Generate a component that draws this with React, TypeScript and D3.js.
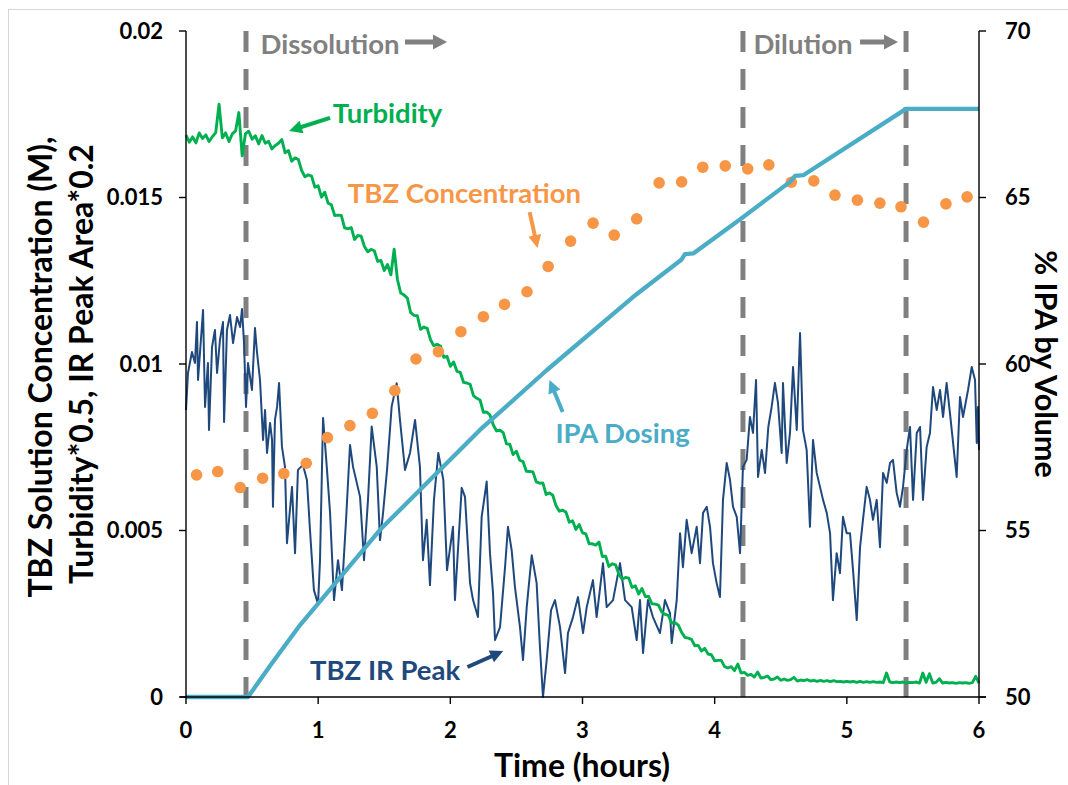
import React from "react";
import * as d3 from "d3";

// ---------- DATA ----------
const timeTicks = [0, 1, 2, 3, 4, 5, 6];
const leftTicks = [0, 0.005, 0.01, 0.015, 0.02];
const leftTickLabels = ["0", "0.005", "0.01", "0.015", "0.02"];
const rightTicks = [50, 55, 60, 65, 70];

// phase boundaries (hours)
const phaseTimes = [0.454, 4.214, 5.448];

// TBZ concentration (M) sampled offline
const tbzConcTimes = [0.08, 0.24, 0.41, 0.58, 0.74, 0.91, 1.07, 1.24, 1.41, 1.58, 1.74, 1.91, 2.08, 2.25, 2.41, 2.58, 2.74, 2.91, 3.08, 3.24, 3.41, 3.58, 3.75, 3.91, 4.08, 4.25, 4.41, 4.58, 4.75, 4.91, 5.08, 5.25, 5.41, 5.58, 5.75, 5.91];
const tbzConcValues = [0.00667, 0.00677, 0.00629, 0.00657, 0.00671, 0.00702, 0.00779, 0.00815, 0.00852, 0.0092, 0.01015, 0.01037, 0.01097, 0.01142, 0.01179, 0.01217, 0.01293, 0.01369, 0.01423, 0.01387, 0.01436, 0.01544, 0.01547, 0.01591, 0.01595, 0.01586, 0.01598, 0.01546, 0.0155, 0.01507, 0.01492, 0.01483, 0.01472, 0.01426, 0.01481, 0.01502];

// Turbidity*0.5 (mM), sampled every 0.025 h from 0 h
const turbidityStartH = 0;
const turbidityStepH = 0.025;
const turbidity_mM = [
  16.87, 16.66, 16.82, 16.64, 16.94, 16.77, 16.88, 16.68, 16.83, 16.95,
  17.8, 16.79, 16.94, 16.68, 16.91, 17.0, 17.55, 16.25, 16.92, 16.99,
  16.75, 16.85, 16.61, 16.86, 16.63, 16.69, 16.46, 16.56, 16.63, 16.74,
  16.34, 16.41, 16.09, 16.19, 16.14, 15.81, 15.62, 15.68, 15.64, 15.31,
  15.35, 15.01, 15.16, 14.83, 14.78, 14.46, 14.47, 14.46, 14.09, 14.06,
  14.1, 13.74, 13.86, 13.84, 13.53, 13.37, 13.44, 13.4, 13.08, 13.11,
  12.81, 12.99, 12.68, 13.45, 12.53, 12.13, 12.07, 11.98, 11.54, 11.46,
  11.45, 11.04, 11.11, 11.07, 10.73, 10.55, 10.59, 10.54, 10.2, 10.23,
  9.93, 10.06, 9.78, 9.75, 9.45, 9.43, 9.39, 9.05, 8.97, 8.92,
  8.55, 8.56, 8.47, 8.17, 7.99, 8.01, 7.94, 7.6, 7.59, 7.28,
  7.38, 7.11, 7.07, 6.78, 6.77, 6.76, 6.46, 6.42, 6.43, 6.08,
  6.13, 6.06, 5.74, 5.58, 5.61, 5.55, 5.25, 5.29, 5.03, 5.18,
  4.93, 4.9, 4.6, 4.6, 4.56, 4.65, 4.22, 4.23, 3.92, 4.0,
  3.97, 3.69, 3.54, 3.59, 3.57, 3.29, 3.34, 3.09, 3.26, 3.02,
  3.02, 2.8, 2.79, 2.76, 2.55, 2.48, 2.45, 2.22, 2.23, 2.16,
  1.94, 1.79, 1.77, 1.73, 1.54, 1.55, 1.38, 1.46, 1.29, 1.27,
  1.09, 1.1, 1.1, 0.91, 0.87, 0.91, 0.79, 0.99, 0.72, 0.74,
  0.65, 0.68, 0.6, 0.75, 0.57, 0.59, 0.63, 0.52, 0.54, 0.6,
  0.5, 0.54, 0.5, 0.52, 0.59, 0.48, 0.51, 0.49, 0.52, 0.48,
  0.5, 0.47, 0.5, 0.47, 0.49, 0.46, 0.49, 0.46, 0.47, 0.45,
  0.47, 0.45, 0.47, 0.44, 0.47, 0.44, 0.46, 0.44, 0.46, 0.44,
  0.45, 0.43, 0.72, 0.45, 0.43, 0.45, 0.43, 0.45, 0.42, 0.44,
  0.43, 0.45, 0.42, 0.72, 0.44, 0.7, 0.42, 0.44, 0.55, 0.42,
  0.44, 0.42, 0.43, 0.41, 0.43, 0.42, 0.43, 0.41, 0.43, 0.62,
  0.42,
];

// TBZ IR peak area*0.2 (mM) as [hours, value]
const irPeak: [number, number][] = [
  [0.0, 8.62], [0.015, 9.73], [0.045, 10.36], [0.068, 10.03], [0.083, 11.26], [0.091, 9.52], [0.129, 11.62], [0.144, 8.71],
  [0.166, 10.03], [0.174, 8.02], [0.197, 10.51], [0.219, 11.02], [0.235, 9.73], [0.257, 10.72], [0.28, 11.26], [0.288, 8.26],
  [0.31, 11.02], [0.333, 11.47], [0.356, 10.63], [0.386, 11.41], [0.409, 11.11], [0.424, 11.65], [0.439, 10.63], [0.454, 8.71],
  [0.469, 10.03], [0.499, 9.22], [0.522, 11.08], [0.537, 10.36], [0.56, 9.52], [0.583, 7.72], [0.598, 8.62], [0.613, 7.33],
  [0.636, 8.23], [0.651, 7.72], [0.658, 5.71], [0.673, 8.32], [0.689, 8.71], [0.704, 9.43], [0.726, 7.51], [0.749, 6.91],
  [0.764, 4.62], [0.802, 6.31], [0.825, 4.32], [0.847, 6.82], [0.885, 6.97], [0.915, 6.52], [0.938, 5.02], [0.968, 3.21],
  [0.999, 2.79], [1.014, 4.11], [1.037, 8.38], [1.065, 6.92], [1.09, 5.53], [1.12, 2.91], [1.15, 4.11], [1.18, 3.21],
  [1.211, 5.32], [1.241, 7.57], [1.264, 6.91], [1.317, 6.01], [1.347, 4.11], [1.377, 5.92], [1.405, 8.12], [1.443, 6.92],
  [1.468, 4.71], [1.491, 5.53], [1.521, 6.82], [1.556, 8.72], [1.594, 9.42], [1.619, 8.32], [1.657, 6.82], [1.695, 7.33],
  [1.733, 8.32], [1.77, 6.91], [1.793, 4.11], [1.821, 5.32], [1.846, 3.36], [1.876, 5.92], [1.909, 7.33], [1.947, 6.52],
  [1.975, 3.81], [2.02, 5.11], [2.035, 2.91], [2.086, 6.28], [2.111, 6.01], [2.149, 3.42], [2.172, 2.91], [2.209, 2.4],
  [2.237, 5.41], [2.275, 6.47], [2.3, 4.32], [2.323, 3.12], [2.338, 1.71], [2.376, 2.1], [2.414, 3.9], [2.436, 5.11],
  [2.464, 4.41], [2.489, 3.3], [2.527, 2.1], [2.55, 1.11], [2.578, 2.7], [2.616, 4.26], [2.653, 3.42], [2.678, 1.5],
  [2.701, 0.0], [2.729, 1.11], [2.762, 2.61], [2.792, 2.91], [2.83, 2.1], [2.868, 0.72], [2.89, 1.92], [2.928, 2.4],
  [2.966, 3.0], [3.004, 1.92], [3.032, 2.7], [3.079, 3.51], [3.107, 2.4], [3.155, 4.02], [3.183, 2.7], [3.231, 2.91],
  [3.284, 4.02], [3.322, 2.91], [3.372, 2.7], [3.41, 1.71], [3.435, 2.91], [3.458, 1.32], [3.495, 2.91], [3.533, 2.4],
  [3.586, 1.92], [3.624, 2.91], [3.662, 2.52], [3.675, 1.62], [3.713, 2.91], [3.738, 4.92], [3.76, 3.9], [3.788, 5.32],
  [3.826, 4.32], [3.864, 5.11], [3.889, 4.02], [3.912, 5.53], [3.94, 5.71], [3.965, 5.11], [3.987, 4.02], [4.015, 3.42],
  [4.04, 3.0], [4.063, 5.92], [4.091, 7.03], [4.116, 6.52], [4.139, 5.71], [4.167, 5.41], [4.192, 4.32], [4.214, 6.91],
  [4.242, 7.12], [4.267, 8.41], [4.29, 7.93], [4.313, 9.52], [4.328, 6.61], [4.356, 7.42], [4.381, 6.73], [4.406, 8.11],
  [4.431, 8.71], [4.456, 9.43], [4.479, 8.83], [4.507, 7.33], [4.517, 9.43], [4.545, 7.03], [4.57, 7.93], [4.593, 9.91],
  [4.621, 8.02], [4.646, 10.93], [4.668, 8.02], [4.696, 7.42], [4.721, 5.11], [4.744, 7.72], [4.772, 6.73], [4.797, 6.31],
  [4.82, 5.92], [4.848, 5.53], [4.873, 4.92], [4.895, 2.91], [4.923, 4.32], [4.948, 3.72], [4.971, 5.41], [4.999, 4.92],
  [5.024, 4.92], [5.047, 3.81], [5.075, 2.31], [5.1, 4.5], [5.122, 5.32], [5.15, 6.31], [5.175, 5.92], [5.198, 5.32],
  [5.226, 5.92], [5.251, 4.5], [5.274, 6.73], [5.302, 6.43], [5.327, 7.03], [5.349, 7.12], [5.377, 6.13], [5.402, 5.71],
  [5.425, 6.31], [5.453, 7.42], [5.478, 8.11], [5.501, 5.92], [5.529, 7.93], [5.554, 8.11], [5.576, 5.92], [5.604, 7.51],
  [5.629, 7.93], [5.652, 9.31], [5.68, 8.62], [5.705, 9.22], [5.728, 8.41], [5.755, 9.43], [5.78, 8.53], [5.831, 6.61],
  [5.856, 9.01], [5.879, 8.41], [5.917, 9.22], [5.945, 9.91], [5.97, 9.52], [5.983, 7.63], [5.992, 8.71], [6.0, 7.42],
];

// IPA dosing (% by volume, right axis) as [hours, %]
const ipaDosing: [number, number][] = [
  [0, 50], [0.469, 50], [0.65, 51.01], [0.863, 52.16], [1.468, 55.02], [2.224, 58.02], [2.731, 59.82], [3.382, 62.01],
  [3.75, 63.14], [3.775, 63.3], [3.838, 63.32], [4.214, 64.41], [4.57, 65.47], [4.608, 65.65], [4.67, 65.67],
  [5.448, 67.66], [6, 67.66],
];

// ---------- LAYOUT ----------
const W = 1068;
const H = 785;
const PL = 186, PR = 979, PT = 31, PB = 697;
const FONT = "Lato, 'Open Sans', 'Liberation Sans', sans-serif";

const GREEN = "#00B050";
const ORANGE = "#F79646";
const CYAN = "#4BACC6";
const NAVY = "#1F497D";
const GRAY = "#808080";

function Arrow({ x1, y1, x2, y2, color, width = 4, head = 13, headW = 13 }: any) {
  const dx = x2 - x1, dy = y2 - y1;
  const L = Math.hypot(dx, dy);
  const ux = dx / L, uy = dy / L;
  const bx = x2 - ux * head, by = y2 - uy * head;
  const px = -uy, py = ux;
  return (
    <g>
      <line x1={x1} y1={y1} x2={bx + ux} y2={by + uy} stroke={color} strokeWidth={width} />
      <polygon
        points={`${x2},${y2} ${bx + (px * headW) / 2},${by + (py * headW) / 2} ${bx - (px * headW) / 2},${by - (py * headW) / 2}`}
        fill={color}
      />
    </g>
  );
}

export default function App() {
  const x = d3.scaleLinear().domain([0, 6]).range([PL, PR]);
  const yL = d3.scaleLinear().domain([0, 0.02]).range([PB, PT]);
  const yR = d3.scaleLinear().domain([50, 70]).range([PB, PT]);

  const turbData: [number, number][] = turbidity_mM.map((v, i) => [turbidityStartH + i * turbidityStepH, v / 1000]);
  const irData: [number, number][] = irPeak.map(([t, v]) => [t, v / 1000]);

  const lineL = d3.line<[number, number]>().x((d) => x(d[0])).y((d) => yL(d[1]));
  const lineR = d3.line<[number, number]>().x((d) => x(d[0])).y((d) => yR(d[1]));

  const tickStyle = { fontFamily: FONT, fontWeight: 700, fontSize: 22, fill: "#000" } as any;
  const titleStyle = { fontFamily: FONT, fontWeight: 700, fontSize: 32, fill: "#000" } as any;
  const ann = (t: number, v: number) => [x(t), yL(v / 1000)];
  const annFont = 27.5;

  const [a1x1, a1y1] = ann(1.09, 17.39), [a1x2, a1y2] = ann(0.78, 17.0);
  const [a2x1, a2y1] = ann(2.6, 14.56), [a2x2, a2y2] = ann(2.66, 13.48);
  const [a3x1, a3y1] = ann(2.85, 8.56), [a3x2, a3y2] = ann(2.75, 9.52);
  const [a4x1, a4y1] = ann(2.13, 0.9), [a4x2, a4y2] = ann(2.4, 1.38);
  const [d1x1, d1y] = ann(1.657, 19.67), [d1x2] = ann(1.975, 19.67);
  const [d2x1] = ann(5.1, 19.67), [d2x2] = ann(5.387, 19.67);

  return (
    <svg width={W} height={H} style={{ position: "absolute", left: 0, top: 0, display: "block", background: "#fff" }}>
      <rect x={0} y={0} width={W} height={H} fill="#fff" />
      {/* outer frame of cropped figure */}
      <line x1={8} y1={9.5} x2={W} y2={9.5} stroke="#d6d6d6" strokeWidth={1} />
      <line x1={8.5} y1={9} x2={8.5} y2={H} stroke="#d6d6d6" strokeWidth={1} />

      {/* phase dashed lines */}
      {phaseTimes.map((t, i) => (
        <line key={i} x1={x(t)} x2={x(t)} y1={PT} y2={PB} stroke={GRAY} strokeWidth={5} strokeDasharray="21 17" />
      ))}

      {/* IR peak */}
      <path d={lineL(irData) || ""} fill="none" stroke={NAVY} strokeWidth={2} strokeLinejoin="round" />
      {/* Turbidity */}
      <path d={lineL(turbData) || ""} fill="none" stroke={GREEN} strokeWidth={2.9} strokeLinejoin="round" />
      {/* TBZ concentration */}
      {tbzConcTimes.map((t, i) => (
        <circle key={i} cx={x(t)} cy={yL(tbzConcValues[i])} r={5.8} fill={ORANGE} />
      ))}
      {/* IPA dosing */}
      <path d={lineR(ipaDosing) || ""} fill="none" stroke={CYAN} strokeWidth={4.3} strokeLinejoin="round" />

      {/* axes */}
      <g stroke="#000" strokeWidth={1.4}>
        <line x1={PL} x2={PL} y1={PT} y2={PB} />
        <line x1={PR} x2={PR} y1={PT} y2={PB} />
        <line x1={PL - 6} x2={PR + 7} y1={PB} y2={PB} />
        {leftTicks.map((v, i) => (
          <line key={"l" + i} x1={PL - 7} x2={PL} y1={yL(v)} y2={yL(v)} />
        ))}
        {rightTicks.map((v, i) => (
          <line key={"r" + i} x1={PR} x2={PR + 7} y1={yR(v)} y2={yR(v)} />
        ))}
        {timeTicks.map((v, i) => (
          <line key={"b" + i} x1={x(v)} x2={x(v)} y1={PB} y2={PB + 7} />
        ))}
      </g>
      {leftTicks.map((v, i) => (
        <text key={"lt" + i} x={163} y={yL(v)} dy="0.36em" textAnchor="end" style={tickStyle}>
          {leftTickLabels[i]}
        </text>
      ))}
      {rightTicks.map((v, i) => (
        <text key={"rt" + i} x={1005} y={yR(v)} dy="0.36em" textAnchor="start" style={tickStyle}>
          {v}
        </text>
      ))}
      {timeTicks.map((v, i) => (
        <text key={"bt" + i} x={x(v)} y={730} dy="0.36em" textAnchor="middle" style={tickStyle}>
          {v}
        </text>
      ))}

      {/* axis titles */}
      <text x={582} y={777} textAnchor="middle" style={titleStyle}>
        Time (hours)
      </text>
      <text transform="translate(52,367) rotate(-90)" textAnchor="middle" style={titleStyle}>
        TBZ Solution Concentration (M),
      </text>
      <text transform="translate(93,364) rotate(-90)" textAnchor="middle" style={titleStyle}>
        Turbidity*0.5, IR Peak Area*0.2
      </text>
      <text transform="translate(1035,364) rotate(90)" textAnchor="middle" style={{ ...titleStyle, fontSize: 30.5 }}>
        % IPA by Volume
      </text>

      {/* phase labels */}
      <text x={x(1.09)} y={yL(19.31 / 1000)} textAnchor="middle" fontFamily={FONT} fontWeight={700} fontSize={annFont} fill={GRAY}>
        Dissolution
      </text>
      <Arrow x1={d1x1} y1={d1y} x2={d1x2} y2={d1y} color={GRAY} width={5} head={14} headW={15} />
      <text x={x(4.668)} y={yL(19.31 / 1000)} textAnchor="middle" fontFamily={FONT} fontWeight={700} fontSize={annFont} fill={GRAY}>
        Dilution
      </text>
      <Arrow x1={d2x1} y1={d1y} x2={d2x2} y2={d1y} color={GRAY} width={5} head={14} headW={15} />

      {/* series labels */}
      <text x={x(1.525)} y={yL(17.24 / 1000)} textAnchor="middle" fontFamily={FONT} fontWeight={700} fontSize={annFont} fill={GREEN}>
        Turbidity
      </text>
      <Arrow x1={a1x1} y1={a1y1} x2={a1x2} y2={a1y2} color={GREEN} />
      <text x={x(2.107)} y={yL(14.83 / 1000)} textAnchor="middle" fontFamily={FONT} fontWeight={700} fontSize={annFont} fill={ORANGE}>
        TBZ Concentration
      </text>
      <Arrow x1={a2x1} y1={a2y1} x2={a2x2} y2={a2y2} color={ORANGE} />
      <text x={x(3.303)} y={yL(7.63 / 1000)} textAnchor="middle" fontFamily={FONT} fontWeight={700} fontSize={annFont} fill={CYAN}>
        IPA Dosing
      </text>
      <Arrow x1={a3x1} y1={a3y1} x2={a3x2} y2={a3y2} color={CYAN} />
      <text x={x(1.506)} y={yL(0.51 / 1000)} textAnchor="middle" fontFamily={FONT} fontWeight={700} fontSize={annFont} fill={NAVY}>
        TBZ IR Peak
      </text>
      <Arrow x1={a4x1} y1={a4y1} x2={a4x2} y2={a4y2} color={NAVY} />
    </svg>
  );
}
